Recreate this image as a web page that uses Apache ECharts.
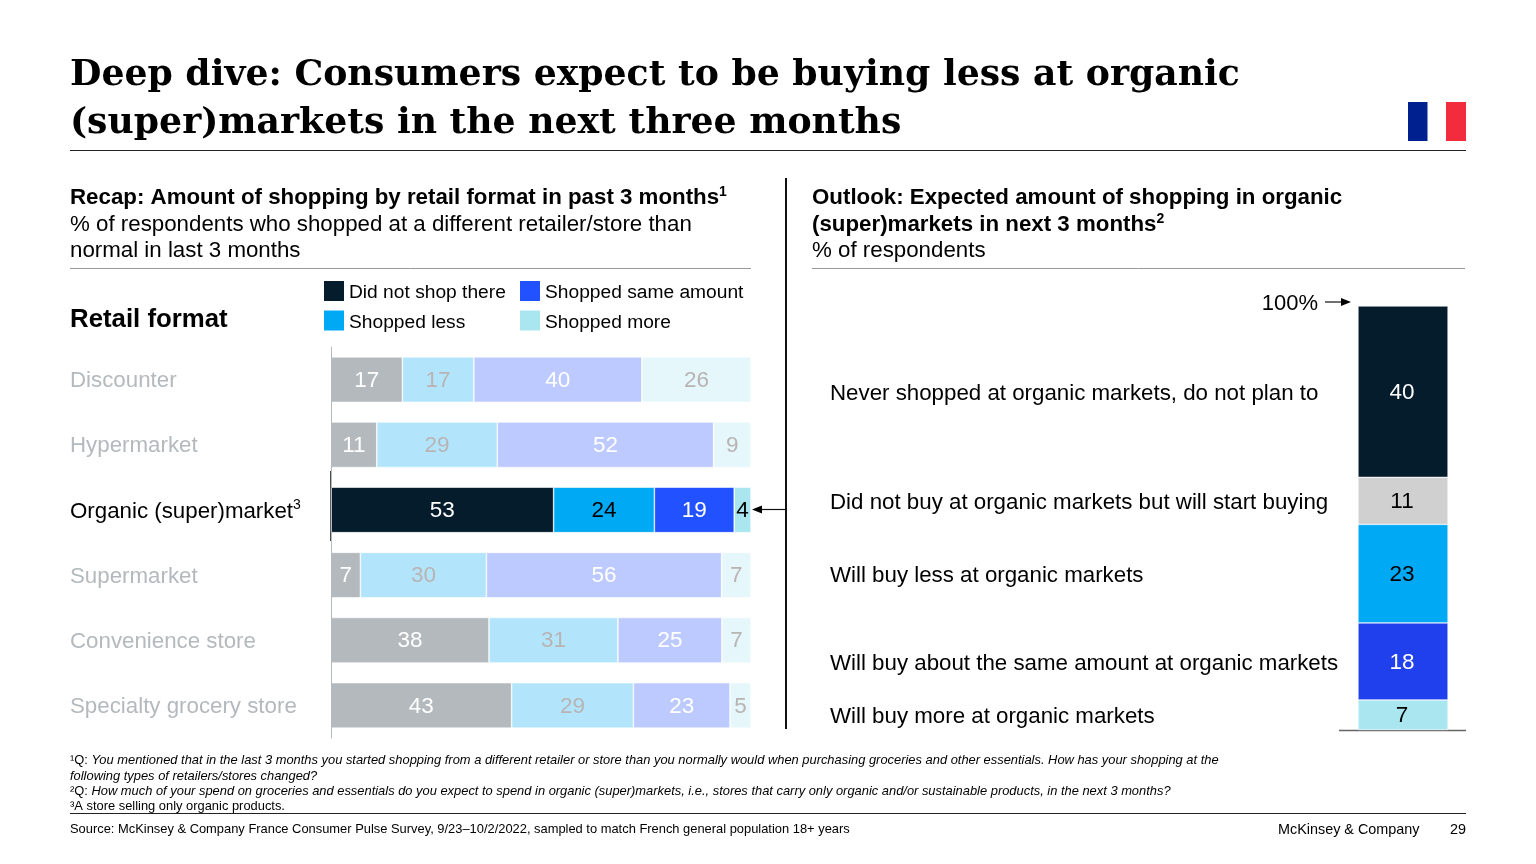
<!DOCTYPE html>
<html>
<head>
<meta charset="utf-8">
<style>
  html, body { margin: 0; padding: 0; background: #fff; }
  #main { width: 1536px; height: 864px; }
</style>
<script src="https://cdn.jsdelivr.net/npm/echarts@6/dist/echarts.min.js"></script>
</head>
<body>
<div id="main"></div>
<script>
var formats = ["Discounter", "Hypermarket", "Organic (super)market", "Supermarket", "Convenience store", "Specialty grocery store"];
var didNotShop = [17, 11, 53, 7, 38, 43];
var shoppedLess = [17, 29, 24, 30, 31, 29];
var shoppedSame = [40, 52, 19, 56, 25, 23];
var shoppedMore = [26, 9, 4, 7, 7, 5];
var highlightRow = 2;

var outlookLabels = [
  "Never shopped at organic markets, do not plan to",
  "Did not buy at organic markets but will start buying",
  "Will buy less at organic markets",
  "Will buy about the same amount at organic markets",
  "Will buy more at organic markets",
];
var outlookValues = [40, 11, 23, 18, 7];

var FONT = '"Liberation Sans", Arial, sans-serif';
var SERIF = '"DejaVu Serif", serif';
var chartDom = document.getElementById("main");
var myChart = echarts.init(chartDom);

// rows do not all sum to 100 because of rounding, the bars still fill the width
function rowTotal(i) {
  return didNotShop[i] + shoppedLess[i] + shoppedSame[i] + shoppedMore[i];
}

function leftSeries(name, values, color, mutedColor, labelColor, mutedLabel) {
  return {
    name: name,
    type: "bar",
    stack: "recap",
    xAxisIndex: 0,
    yAxisIndex: 0,
    barWidth: 45.5,
    itemStyle: { color: color, borderColor: "#fff", borderWidth: 0.6 },
    data: values.map(function (v, i) {
      var on = i == highlightRow;
      return {
        value: (v / rowTotal(i)) * 100,
        itemStyle: { color: on ? color : mutedColor },
        label: {
          show: true,
          position: "inside",
          offset: [0, 1],
          formatter: String(v),
          fontFamily: FONT,
          fontSize: 22.5,
          color: on ? labelColor : mutedLabel,
        },
      };
    }),
  };
}

function rightSeries(index, color, labelColor) {
  return {
    name: outlookLabels[index],
    type: "bar",
    stack: "outlook",
    xAxisIndex: 1,
    yAxisIndex: 1,
    barWidth: 90,
    itemStyle: { color: color, borderColor: "#fff", borderWidth: 0.5 },
    label: {
      show: true,
      position: "inside",
      offset: [-1, 1],
      fontFamily: FONT,
      fontSize: 22.5,
      color: labelColor,
    },
    data: [outlookValues[index]],
  };
}

function txt(x, y, text, size, extra) {
  var style = {
    x: x,
    y: y,
    text: text,
    font: (extra && extra.weight ? extra.weight + " " : "") + size + "px " + ((extra && extra.family) || FONT),
    fill: (extra && extra.color) || "#000",
    textAlign: (extra && extra.align) || "left",
    textVerticalAlign: "middle",
  };
  if (extra && extra.rich) style.rich = extra.rich;
  return { type: "text", silent: true, style: style };
}

function line(x1, y1, x2, y2, color, width) {
  return {
    type: "line",
    silent: true,
    shape: { x1: x1, y1: y1, x2: x2, y2: y2 },
    style: { stroke: color, lineWidth: width },
  };
}

function rect(x, y, w, h, color) {
  return { type: "rect", silent: true, shape: { x: x, y: y, width: w, height: h }, style: { fill: color } };
}

function arrowHead(points) {
  return { type: "polygon", silent: true, shape: { points: points }, style: { fill: "#000" } };
}

var noteRich = {
  n: { fontFamily: FONT, fontSize: 12.9, fontStyle: "normal", color: "#000" },
  i: { fontFamily: FONT, fontSize: 12.9, fontStyle: "italic", color: "#000" },
};
var headRich = {
  b: { fontFamily: FONT, fontSize: 22.3, fontWeight: "bold", color: "#000", lineHeight: 26 },
  s: { fontFamily: FONT, fontSize: 14, fontWeight: "bold", color: "#000", lineHeight: 26, verticalAlign: "top" },
};

var staticGraphics = [
  // title
  txt(70, 76, "Deep dive: Consumers expect to be buying less at organic", 36.2, { weight: "bold", family: SERIF }),
  txt(70, 124, "(super)markets in the next three months", 36.2, { weight: "bold", family: SERIF }),
  rect(1408, 102, 19.5, 39, "#002090"),
  rect(1446, 102, 20, 39, "#f22c3d"),
  line(70, 150.5, 1466, 150.5, "#222", 1),

  // left heading
  txt(70, 198, "{b|Recap: Amount of shopping by retail format in past 3 months}{s|1}", 22.3, { rich: headRich }),
  txt(70, 225, "% of respondents who shopped at a different retailer/store than", 22.3),
  txt(70, 251, "normal in last 3 months", 22.3),
  line(70, 268.5, 751, 268.5, "#999", 1),
  txt(70, 320, "Retail format", 25.8, { weight: "bold" }),

  // divider
  line(786, 178, 786, 729, "#111", 2),

  // right heading
  txt(812, 198, "Outlook: Expected amount of shopping in organic", 22.3, { weight: "bold" }),
  txt(812, 225, "{b|(super)markets in next 3 months}{s|2}", 22.3, { rich: headRich }),
  txt(812, 251, "% of respondents", 22.3),
  line(812, 268.5, 1465, 268.5, "#999", 1),

  // highlighted stretch of the category axis + pointer to the 4
  line(331, 471, 331, 541, "#111", 1.5),
  line(760, 509.5, 786, 509.5, "#111", 1.2),
  arrowHead([[752, 509.5], [762, 505.5], [762, 513.5]]),

  // 100% marker
  txt(1318, 304, "100%", 22, { align: "right" }),
  line(1325, 302, 1343, 302, "#111", 1.2),
  arrowHead([[1351, 302], [1341, 298], [1341, 306]]),
  line(1339, 730.5, 1466, 730.5, "#666", 1.5),

  // footnotes
  txt(70, 760, "{n|¹Q: }{i|You mentioned that in the last 3 months you started shopping from a different retailer or store than you normally would when purchasing groceries and other essentials. How has your shopping at the}", 12.9, { rich: noteRich }),
  txt(70, 776, "{i|following types of retailers/stores changed?}", 12.9, { rich: noteRich }),
  txt(70, 791, "{n|²Q: }{i|How much of your spend on groceries and essentials do you expect to spend in organic (super)markets, i.e., stores that carry only organic and/or sustainable products, in the next 3 months?}", 12.9, { rich: noteRich }),
  txt(70, 806, "{n|³A store selling only organic products.}", 12.9, { rich: noteRich }),
  line(70, 813.5, 1466, 813.5, "#222", 1),
  txt(70, 829, "Source: McKinsey & Company France Consumer Pulse Survey, 9/23–10/2/2022, sampled to match French general population 18+ years", 12.9),
  txt(1278, 830, "McKinsey & Company", 14.4),
  txt(1466, 830, "29", 14.4, { align: "right" }),
];

var legendText = {
  fontFamily: FONT,
  fontSize: 19.2,
  color: "#000",
  rich: { t: { fontFamily: FONT, fontSize: 19.2, color: "#000", padding: [4, 0, 0, 0] } },
};

var option = {
  animation: false,
  backgroundColor: "#fff",
  legend: [
    {
      left: 324,
      top: 281,
      padding: 0,
      orient: "vertical",
      itemWidth: 20,
      itemHeight: 20,
      itemGap: 8,
      icon: "rect",
      selectedMode: false,
      itemStyle: { borderWidth: 0 },
      formatter: "{t|{name}}",
      textStyle: legendText,
      data: ["Did not shop there", "Shopped less"],
    },
    {
      left: 520,
      top: 281,
      padding: 0,
      orient: "vertical",
      itemWidth: 20,
      itemHeight: 20,
      itemGap: 8,
      icon: "rect",
      selectedMode: false,
      itemStyle: { borderWidth: 0 },
      formatter: "{t|{name}}",
      textStyle: legendText,
      data: ["Shopped same amount", "Shopped more"],
    },
  ],
  grid: [
    { left: 331, top: 347, width: 420, height: 391 },
    { left: 1358, top: 306, width: 90, height: 424 },
  ],
  xAxis: [
    { type: "value", gridIndex: 0, min: 0, max: 100, show: false },
    { type: "category", gridIndex: 1, data: ["Outlook"], show: false },
  ],
  yAxis: [
    {
      type: "category",
      gridIndex: 0,
      inverse: true,
      z: 3,
      data: formats,
      axisTick: { show: false },
      axisLine: { show: true, lineStyle: { color: "#b5bac0", width: 1 } },
      axisLabel: {
        margin: 261,
        align: "left",
        padding: [3, 0, 0, 0],
        fontFamily: FONT,
        fontSize: 22.3,
        color: "#b4b9bd",
        formatter: function (value, index) {
          return index == highlightRow ? "{on|" + value + "}{sup|3}" : value;
        },
        rich: {
          on: { color: "#000", fontFamily: FONT, fontSize: 22.3, lineHeight: 26 },
          sup: { color: "#000", fontFamily: FONT, fontSize: 14, lineHeight: 26, verticalAlign: "top" },
        },
      },
    },
    { type: "value", gridIndex: 1, inverse: true, min: 0, max: 99, show: false },
  ],
  series: [
    leftSeries("Did not shop there", didNotShop, "#051c2c", "#b3b9bd", "#fff", "#fff"),
    leftSeries("Shopped less", shoppedLess, "#00a9f4", "#b2e5fc", "#000", "#b8b4b4"),
    leftSeries("Shopped same amount", shoppedSame, "#2251ff", "#bdcaff", "#fff", "#fff"),
    leftSeries("Shopped more", shoppedMore, "#aae6f0", "#e5f7fb", "#000", "#b8b4b4"),
    rightSeries(0, "#051c2c", "#fff"),
    rightSeries(1, "#d0d0d0", "#000"),
    rightSeries(2, "#00a9f4", "#000"),
    rightSeries(3, "#2040ee", "#fff"),
    rightSeries(4, "#aae6f0", "#000"),
  ],
  graphic: { elements: staticGraphics },
};

option && myChart.setOption(option);

// outlook captions sit beside the middle of their segment
var running = 0;
var captions = outlookLabels.map(function (label, i) {
  var mid = running + outlookValues[i] / 2;
  running += outlookValues[i];
  return txt(830, myChart.convertToPixel({ yAxisIndex: 1 }, mid) + 2, label, 22.3);
});
myChart.setOption({ graphic: { elements: staticGraphics.concat(captions) } });
</script>
</body>
</html>
